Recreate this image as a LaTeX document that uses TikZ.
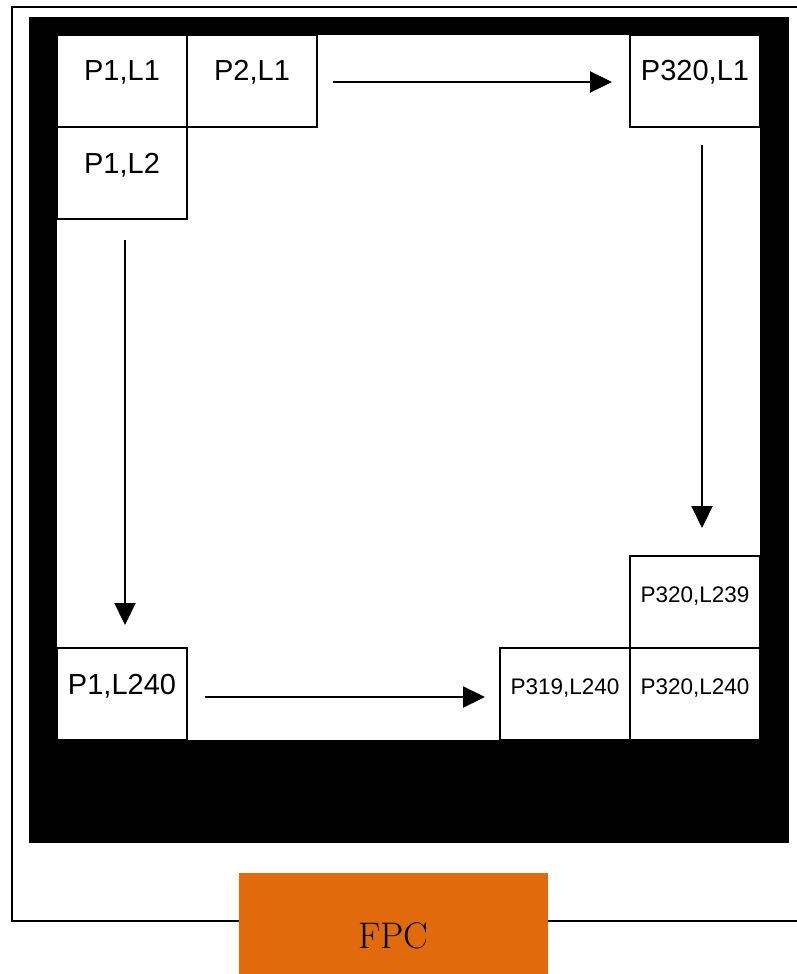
\documentclass[tikz,border=0pt]{standalone}
\usepackage{fontspec}
\setsansfont{Liberation Sans}
\usepackage{tikz}
\usetikzlibrary{arrows.meta,positioning}
\definecolor{fpcorange}{HTML}{E06A0C}

\begin{document}
\begin{tikzpicture}[x=1pt,y=-1pt,
  cell/.style={rectangle,draw,line width=2.5pt,fill=white,minimum width=130pt,minimum height=92pt,inner sep=0pt,outer sep=0pt,text height=12pt,text depth=12pt,font=\sffamily\fontsize{29}{29}\selectfont},
  smallcell/.style={cell,font=\sffamily\fontsize{22.5}{22.5}\selectfont},
  fpc/.style={rectangle,fill=fpcorange,minimum width=309pt,minimum height=101pt,inner sep=0pt,outer sep=0pt,text height=49pt,text depth=0pt,font=\fontsize{37}{37}\selectfont},
  arr/.style={-{Triangle[length=22pt,width=21pt]},line width=2.2pt}]

  \useasboundingbox (0,0) rectangle (796,974);

  % panel outline and black frame
  \draw[line width=2pt] (810,7) -| (12,921) -- (810,921);
  \fill[black] (29,17) rectangle (789,843);
  \fill[white] (57,35) rectangle (760,740);

  % first line
  \node[cell,anchor=north west] (p1l1) at (57,35) {P1,L1};
  \node[cell,right=0pt of p1l1] (p2l1) {P2,L1};
  \node[cell,below=0pt of p1l1] (p1l2) {P1,L2};
  \node[cell,anchor=north east] (p320l1) at (760,35) {P320,L1};

  % last line
  \node[cell,anchor=south west] (p1l240) at (57,740) {P1,L240};
  \node[smallcell,anchor=south east] (p320l240) at (760,740) {P320,L240};
  \node[smallcell,left=0pt of p320l240] (p319l240) {P319,L240};
  \node[smallcell,above=0pt of p320l240] (p320l239) {P320,L239};

  % connector
  \node[fpc,anchor=north west] (fpc) at (239,873) {FPC};

  % scan direction
  \draw[arr,shorten <=16pt,shorten >=18pt] ([yshift=-1pt]p2l1.east) -- ([yshift=-1pt]p320l1.west);
  \draw[arr,shorten <=18pt,shorten >=28pt] ([xshift=7pt]p320l1.south) -- ([xshift=7pt]p320l239.north);
  \draw[arr,shorten <=21pt,shorten >=23pt] ([xshift=3pt]p1l2.south) -- ([xshift=3pt]p1l240.north);
  \draw[arr,shorten <=18pt,shorten >=15pt] ([yshift=-3pt]p1l240.east) -- ([yshift=-3pt]p319l240.west);
\end{tikzpicture}
\end{document}
